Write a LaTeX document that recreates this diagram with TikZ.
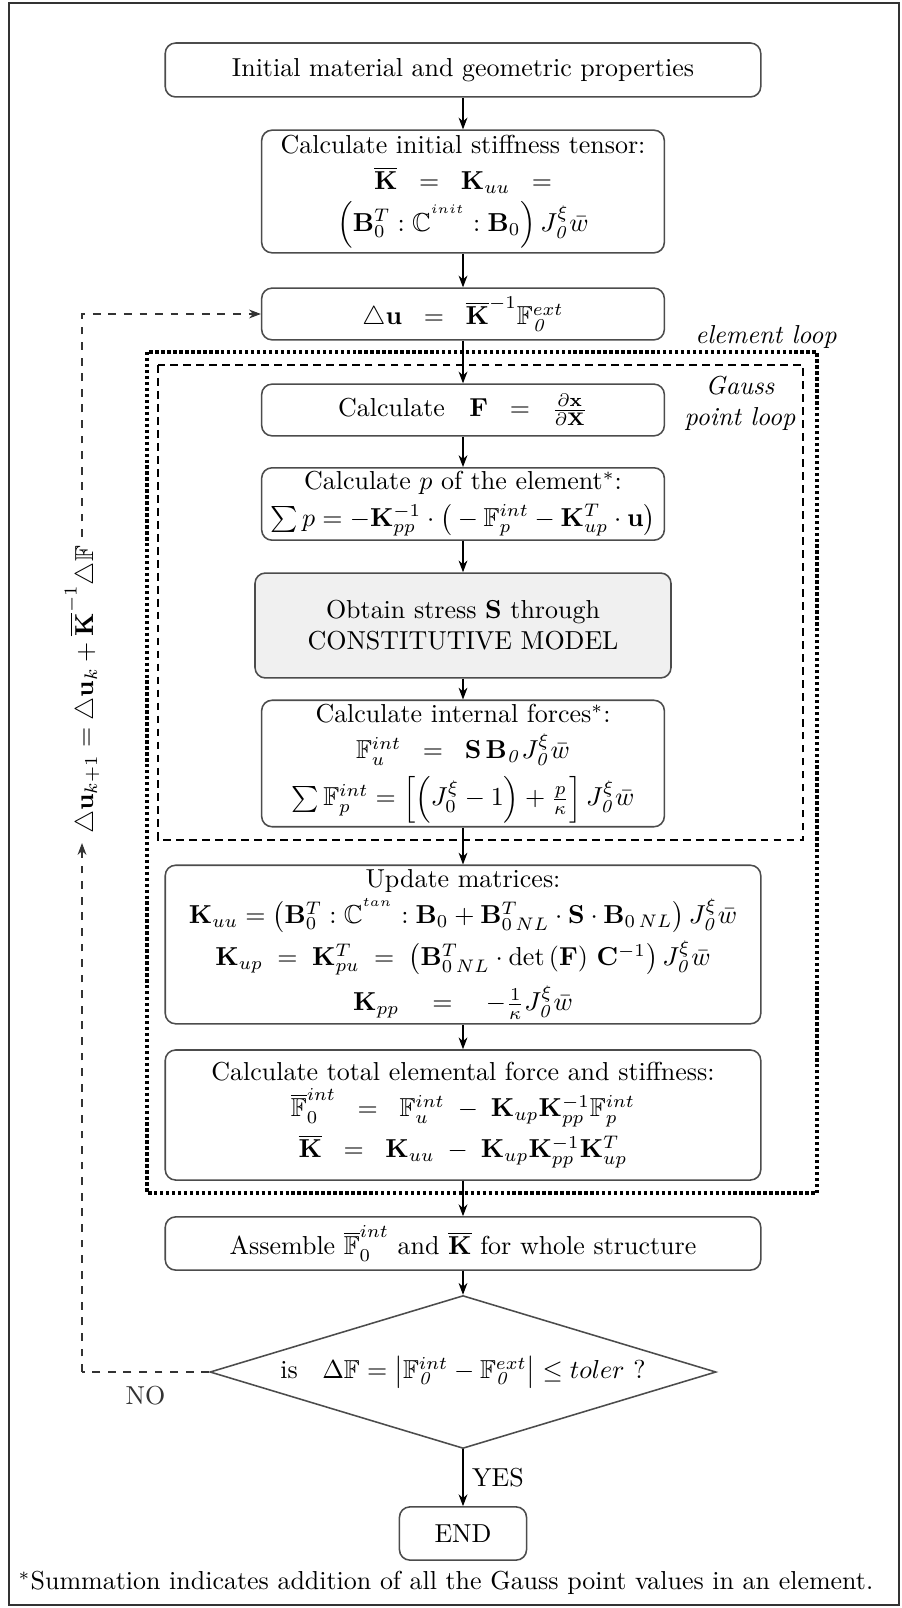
\documentclass[tikz,border=0pt]{standalone}
\usepackage{amsmath,amssymb}
\usepackage{tikz}
\usetikzlibrary{arrows.meta,positioning,calc,shapes.geometric}

\begin{document}
\begin{tikzpicture}[
    x=0.01353cm, y=-0.01353cm,
    box/.style={rectangle, rounded corners=4pt, draw=black!70, line width=0.6pt, align=center, minimum width=5.45cm, inner sep=1.5pt},
    wide/.style={box, minimum width=8.06cm},
    decision/.style={diamond, draw=black!70, line width=0.6pt, aspect=3.3, inner sep=0pt, minimum width=6.85cm, minimum height=2.07cm},
    arr/.style={-{Stealth[length=1.6mm]}},
    fb/.style={dashed, black!80},
    elemloop/.style={densely dotted, line width=1.3pt},
    gaussloop/.style={dash pattern=on 3pt off 2pt, line width=0.8pt}
  ]
  \useasboundingbox (0,0) rectangle (901,1608);
  \draw[black!80, line width=0.6pt] (9,3) rectangle (899,1605);

  % flow column
  \node[wide, minimum height=0.73cm] (init) at (463,70) {Initial material and geometric properties};
  \node[box, minimum height=1.66cm] (stiff) at (463,191.5) {Calculate initial stiffness tensor:\\[2pt]
    $\overline{\mathbf{K}} \;\;=\;\; \mathbf{K}_{uu} \;\;=$\\[2pt]
    $\Big(\mathbf{B}_0^T : \mathbb{C}^{^{init}} : \mathbf{B}_0\Big)\, J_{\mathit{0}}^{\xi}\bar{w}$};
  \node[box, minimum height=0.70cm] (du) at (463,314) {$\triangle\mathbf{u} \;\;=\;\; \overline{\mathbf{K}}^{-1}\mathbb{F}_{\mathit{0}}^{ext}$};
  \node[box, minimum height=0.70cm] (defgrad) at (463,410) {Calculate \; $\mathbf{F} \;\;=\;\; \frac{\partial\mathbf{x}}{\partial\mathbf{X}}$};
  \node[box, minimum height=0.97cm] (press) at (463,504) {Calculate $p$ of the element$^*$:\\[2pt]
    $\sum p = -\mathbf{K}_{pp}^{-1}\cdot\big(-\mathbb{F}_p^{int} - \mathbf{K}_{up}^T\cdot\mathbf{u}\big)$};
  \node[box, fill=black!6, minimum width=5.63cm, minimum height=1.42cm] (stress) at (463,625.5) {Obtain stress $\mathbf{S}$ through\\ CONSTITUTIVE MODEL};
  \node[box, minimum height=1.58cm] (intf) at (463,763.5) {Calculate internal forces$^*$:\\[2pt]
    $\mathbb{F}_u^{int} \;\;=\;\; \mathbf{S}\,\mathbf{B}_{\mathit{0}}J_{\mathit{0}}^{\xi}\bar{w}$\\[3pt]
    $\sum\mathbb{F}_p^{int} = \Big[\Big(J_0^{\xi}-1\Big)+\frac{p}{\kappa}\Big]\,J_{\mathit{0}}^{\xi}\bar{w}$};
  \node[wide, minimum height=1.96cm] (upd) at (463,944.5) {Update matrices:\\[2pt]
    $\mathbf{K}_{uu} = \big(\mathbf{B}_0^T : \mathbb{C}^{^{tan}} : \mathbf{B}_0 + \mathbf{B}_{0\,NL}^T\cdot\mathbf{S}\cdot\mathbf{B}_{0\,NL}\big)\, J_{\mathit{0}}^{\xi}\bar{w}$\\[2pt]
    $\mathbf{K}_{up} \;=\; \mathbf{K}_{pu}^T \;=\; \big(\mathbf{B}_{0\,NL}^T\cdot\det\left(\mathbf{F}\right)\,\mathbf{C}^{-1}\big)\, J_{\mathit{0}}^{\xi}\bar{w}$\\[3pt]
    $\mathbf{K}_{pp} \quad=\quad -\frac{1}{\kappa} J_{\mathit{0}}^{\xi}\bar{w}$};
  \node[wide, minimum height=1.76cm] (total) at (463,1115) {Calculate total elemental force and stiffness:\\[2pt]
    $\overline{\mathbb{F}}_0^{int} \;\;=\;\; \mathbb{F}_u^{int} \;-\; \mathbf{K}_{up}\mathbf{K}_{pp}^{-1}\mathbb{F}_p^{int}$\\[2pt]
    $\overline{\mathbf{K}} \;\;=\;\; \mathbf{K}_{uu} \;-\; \mathbf{K}_{up}\mathbf{K}_{pp}^{-1}\mathbf{K}_{up}^T$};
  \node[wide, minimum height=0.72cm] (asm) at (463,1243.5) {Assemble $\overline{\mathbb{F}}_0^{int}$ and $\overline{\mathbf{K}}$ for whole structure};
  \node[decision] (check) at (463,1372) {is \; $\Delta\mathbb{F} = \big|\mathbb{F}_{\mathit{0}}^{int}-\mathbb{F}_{\mathit{0}}^{ext}\big| \leq toler$ ?};
  \node[box, minimum width=1.72cm, minimum height=0.72cm] (end) at (463,1533.5) {END};

  \foreach \a/\b in {init/stiff, stiff/du, du/defgrad, defgrad/press, press/stress,
                     stress/intf, intf/upd, upd/total, total/asm, asm/check}
    \draw[arr] (\a) -- (\b);
  \draw[arr] (check) -- node[right]{YES} (end);

  % loops
  \draw[elemloop] (147,352) rectangle (817,1193);
  \draw[gaussloop] (158,365) rectangle (803,840);
  \node[font=\itshape] (elab) at (766,337) {element loop};
  \node[font=\itshape, align=center] (glab) at (740,403) {Gauss\\point loop};

  % feedback
  \node[rotate=90] (fblab) at (82,690) {$\triangle\mathbf{u}_{k+1} = \triangle\mathbf{u}_k + \overline{\mathbf{K}}^{-1}\triangle\mathbb{F}$};
  \coordinate (nocorner) at (82,1372);
  \draw[fb] (check.west) -- node[below=2pt]{NO} (nocorner);
  \draw[fb, arr] (nocorner) -- (fblab.west);
  \draw[fb, arr] (fblab.east) |- (du.west);

  \node (foot) at (446,1583) {$^*$Summation indicates addition of all the Gauss point values in an element.};
\end{tikzpicture}
\end{document}
